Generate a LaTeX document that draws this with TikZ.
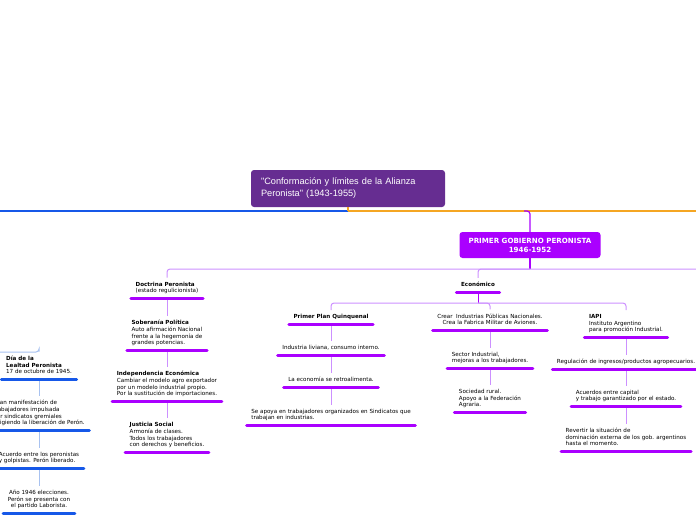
\documentclass[tikz,border=0pt]{standalone}
\usepackage{fontspec}
\newfontfamily\dejavu{DejaVu Sans}
\newfontfamily\arialf{Liberation Sans}
\usepackage{tikz}

\definecolor{temacol}{HTML}{662D91}
\definecolor{violeta}{HTML}{AA00FF}
\definecolor{lila}{HTML}{CC90FF}
\definecolor{azul}{HTML}{1658E8}
\definecolor{celeste}{HTML}{A8C2F0}
\definecolor{naranja}{HTML}{F5A623}

\tikzset{
  tema/.style={fill=temacol, rounded corners=3pt, text=white, align=left,
    text width=174pt, inner xsep=10pt, minimum height=37pt,
    font=\arialf\fontsize{9.2}{12}\selectfont},
  gobierno/.style={fill=violeta, rounded corners=3pt, text=white, align=center,
    minimum width=141pt, minimum height=26pt, inner sep=0pt,
    font=\dejavu\bfseries\fontsize{7.1}{9}\selectfont},
  item/.style={anchor=south, align=left, inner xsep=4.5pt, inner ysep=4pt,
    text depth=1.2pt, font=\dejavu\fontsize{5.6}{6.6}\selectfont},
  barra/.style={violeta, line width=3pt, line cap=round},
  barraazul/.style={azul, line width=3pt, line cap=round},
  conn/.style={lila, line width=1pt},
  connazul/.style={celeste, line width=1pt},
}

\begin{document}
\begin{tikzpicture}[x=1pt, y=-1pt]
  \path [use as bounding box, clip] (0,0) rectangle (696,520);

  % tema central y lineas principales
  \node [tema] (tema) at (348,188.5) {"Conformación y límites de la Alianza\\Peronista" (1943-1955)};
  \coordinate (hub) at (348,211);
  \coordinate (izq) at (0,211);
  \coordinate (der) at (696,211);
  \draw [azul, line width=1.2pt] (izq) -- (hub);
  \draw [naranja, line width=1.2pt] (hub) -- (der);
  \draw [naranja, line width=1.2pt] (tema.south) -- (hub);

  \node [gobierno] (gob) at (530,245) {PRIMER GOBIERNO PERONISTA\\1946-1952};
  \coordinate (g0) at (524,211);
  \draw [violeta, line width=1.2pt, rounded corners=3pt] (g0) -| (gob.north);
  \coordinate (eje) at (530,269);
  \coordinate (ejeder) at (696,269);
  \draw [violeta, line width=1.2pt] (gob.south) -- (eje);

  % doctrina
  \node [item] (doc) at (167,298) {\textbf{Doctrina Peronista}\\(estado regulicionista)};
  \node [item] (sob) at (167,350) {\textbf{Soberanía Política}\\Auto afirmación Nacional\\frente a la hegemonía de\\grandes potencias.};
  \node [item] (indep) at (167,401) {\textbf{Independencia Económica}\\Cambiar el modelo agro exportador\\por un modelo industrial propio.\\Por la sustitución de importaciones.};
  \node [item] (jus) at (167,452) {\textbf{Justicia Social}\\Armonía de clases.\\Todos los trabajadores\\con derechos y beneficios.};

  % economico
  \node [item, align=center] (eco) at (478,292) {\textbf{Económico}};
  \node [item, align=center] (ppq) at (331,324) {\textbf{Primer Plan Quinquenal}};
  \node [item, align=center] (livi) at (331,355) {Industria liviana, consumo interno.};
  \node [item, align=center] (retro) at (331,387) {La economía se retroalimenta.};
  \node [item] (sind) at (331,425) {Se apoya en trabajadores organizados en Sindicatos que\\trabajan en industrias.};
  \node [item, align=center] (crear) at (490,330) {Crear\ \ Industrias Públicas Nacionales.\\Crea la Fabrica Militar de Aviones.};
  \node [item] (sect) at (490,368) {Sector Industrial,\\mejoras a los trabajadores.};
  \node [item] (rural) at (490,412) {Sociedad rural.\\Apoyo a la Federación\\Agraria.};
  \node [item] (iapi) at (626,337) {\textbf{IAPI}\\Instituto Argentino\\para promoción Industrial.};
  \node [item, align=center] (regu) at (626,369) {Regulación de ingresos/productos agropecuarios.};
  \node [item] (acap) at (626,406) {Acuerdos entre capital\\y trabajo garantizado por el estado.};
  \node [item] (rev) at (626,451) {Revertir la situación de\\dominación externa de los gob. argentinos\\hasta el momento.};

  % lealtad
  \node [item] (dia) at (39,379) {\textbf{Día de la}\\\textbf{Lealtad Peronista}\\17 de octubre de 1945.};
  \node [item] (mani) at (39,430) {Gran manifestación de\\trabajadores impulsada\\por sindicatos gremiales\\exigiendo la liberación de Perón.};
  \node [item] (acu) at (39,468) {Acuerdo entre los peronistas\\y golpistas. Perón liberado.};
  \node [item, align=center] (ano) at (39,513) {Año 1946 elecciones.\\Perón se presenta con\\el partido Laborista.};

  % ramas
  \draw [conn, rounded corners=3pt] (doc.north) |- (ejeder);
  \draw [conn, rounded corners=3pt] (eco.north) |- (eje);
  \coordinate (ramal) at (478,303);
  \draw [violeta, line width=1pt] (eco.south) -- (ramal);
  \draw [conn, rounded corners=3pt] (ppq.north) |- (ramal) -| (iapi.north);
  \draw [conn, rounded corners=3pt] (crear.north) |- (ramal);
  \coordinate (izq2) at (0,352);
  \draw [connazul, rounded corners=3pt] (izq2) -| (dia.north);

  \foreach \a/\b in {doc/sob, sob/indep, indep/jus, ppq/livi, livi/retro, retro/sind,
      crear/sect, sect/rural, iapi/regu, regu/acap, acap/rev}
    \draw [conn] (\a.south) -- (\b.north);
  \foreach \a/\b in {dia/mani, mani/acu, acu/ano}
    \draw [connazul] (\a.south) -- (\b.north);

  % barras
  \foreach \n in {doc, sob, indep, jus, eco, ppq, livi, retro, sind, crear, sect, rural,
      iapi, regu, acap, rev}
    \draw [barra] (\n.south west) -- (\n.south east);
  \foreach \n in {dia, mani, acu, ano}
    \draw [barraazul] (\n.south west) -- (\n.south east);
\end{tikzpicture}
\end{document}
